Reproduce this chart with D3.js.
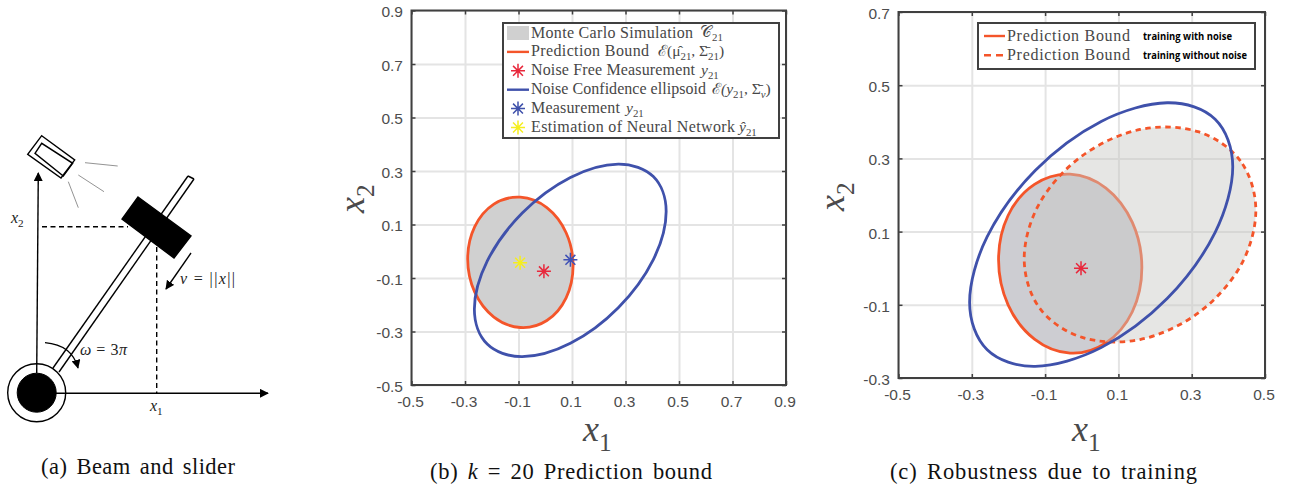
<!DOCTYPE html>
<html>
<head>
<meta charset="utf-8">
<script src="https://d3js.org/d3.v7.min.js"></script>
<style>
  html, body { margin: 0; padding: 0; background: #fff; }
  svg { display: block; }
</style>
</head>
<body>
<svg width="1295" height="491"></svg>
<script>
// axis ticks
const bTicksX = [-0.5, -0.3, -0.1, 0.1, 0.3, 0.5, 0.7, 0.9];
const bTicksY = [-0.5, -0.3, -0.1, 0.1, 0.3, 0.5, 0.7, 0.9];
const cTicksX = [-0.5, -0.3, -0.1, 0.1, 0.3, 0.5];
const cTicksY = [-0.3, -0.1, 0.1, 0.3, 0.5, 0.7];

// panel b, curves as [x1, x2]
const bPrediction = [[0.104,-0.054],[0.078,0.069],[0.006,0.163],[-0.093,0.202],[-0.192,0.176],[-0.264,0.091],[-0.29,-0.029],[-0.264,-0.152],[-0.192,-0.246],[-0.093,-0.285],[0.006,-0.259],[0.078,-0.174]];
const bNoise = [[0.452,0.149],[0.404,0.279],[0.273,0.326],[0.094,0.276],[-0.086,0.143],[-0.217,-0.037],[-0.265,-0.217],[-0.217,-0.347],[-0.086,-0.394],[0.094,-0.344],[0.273,-0.211],[0.404,-0.031]];
const bStars = [
  { x: -0.005, y: -0.075, color: "#e8283c" },
  { x: 0.094, y: -0.032, color: "#3f51b5" },
  { x: -0.094, y: -0.043, color: "#f5ee1e" }
];

// panel c
const cWithNoise = [[0.164,0.002],[0.138,0.125],[0.066,0.219],[-0.032,0.257],[-0.129,0.229],[-0.201,0.144],[-0.227,0.023],[-0.201,-0.1],[-0.129,-0.194],[-0.032,-0.232],[0.066,-0.204],[0.138,-0.119]];
const cWithoutNoise = [[0.475,0.158],[0.433,0.293],[0.317,0.373],[0.159,0.379],[0.001,0.307],[-0.115,0.178],[-0.157,0.026],[-0.115,-0.109],[0.001,-0.189],[0.159,-0.195],[0.317,-0.123],[0.433,0.006]];
const cNoise = [[0.412,0.277],[0.364,0.407],[0.233,0.452],[0.053,0.401],[-0.127,0.267],[-0.258,0.086],[-0.306,-0.093],[-0.258,-0.223],[-0.127,-0.268],[0.053,-0.217],[0.233,-0.083],[0.364,0.098]];
const cStars = [{ x: -0.002, y: 0, color: "#e8283c" }];

const orange = "#f4552a";
const blue = "#3f51ab";
const serif = "'Liberation Serif', serif";
const sans = "'Liberation Sans', sans-serif";

const svg = d3.select("svg");

// 8 armed marker, matlab style
const star8 = {
  draw(ctx, size) {
    const r = Math.sqrt(size);
    for (let i = 0; i < 4; i++) {
      const a = i * Math.PI / 4;
      ctx.moveTo(-r * Math.cos(a), -r * Math.sin(a));
      ctx.lineTo(r * Math.cos(a), r * Math.sin(a));
    }
  }
};

// parts: [text, kind] with kind r, i, sub, isub or sup
function mathText(parent, x, y, parts, size, color) {
  const t = parent.append("text")
    .attr("x", x).attr("y", y)
    .attr("font-family", serif)
    .attr("font-size", size)
    .attr("fill", color);
  let shift = 0;
  parts.forEach(([s, kind]) => {
    const small = kind === "sub" || kind === "isub" || kind === "sup";
    const target = kind === "sub" || kind === "isub" ? size * 0.28 : kind === "sup" ? -size * 0.35 : 0;
    t.append("tspan")
      .attr("dy", target - shift)
      .attr("font-style", kind === "i" || kind === "isub" ? "italic" : "normal")
      .attr("font-size", small ? size * 0.7 : size)
      .text(s);
    shift = target;
  });
  return t;
}

function panel(box, ticksX, ticksY) {
  const x = d3.scaleLinear().domain([ticksX[0], ticksX[ticksX.length - 1]]).range([box.left, box.right]);
  const y = d3.scaleLinear().domain([ticksY[0], ticksY[ticksY.length - 1]]).range([box.bottom, box.top]);
  const w = box.right - box.left, h = box.bottom - box.top;
  const fmt = d => d.toFixed(1);

  const grid = svg.append("g");
  grid.append("g").attr("transform", `translate(0,${box.bottom})`)
    .call(d3.axisBottom(x).tickValues(ticksX).tickSize(-h).tickFormat(""));
  grid.append("g").attr("transform", `translate(${box.left},0)`)
    .call(d3.axisLeft(y).tickValues(ticksY).tickSize(-w).tickFormat(""));
  grid.selectAll(".domain").remove();
  grid.selectAll("line").attr("stroke", "#e4e4e4").attr("stroke-width", 2);

  const marks = svg.append("g");
  const frame = svg.append("g");
  frame.append("rect")
    .attr("x", box.left).attr("y", box.top).attr("width", w).attr("height", h)
    .attr("fill", "none").attr("stroke", "#404040").attr("stroke-width", 2);
  const axes = [
    [d3.axisBottom(x).tickValues(ticksX).tickSize(-4).tickPadding(11).tickFormat(fmt), 0, box.bottom, -1.5, 0],
    [d3.axisLeft(y).tickValues(ticksY).tickSize(-4).tickPadding(8.5).tickFormat(fmt), box.left, 0, 0, 1.5],
    [d3.axisTop(x).tickValues(ticksX).tickSize(-4).tickFormat(""), 0, box.top, 0, 0],
    [d3.axisRight(y).tickValues(ticksY).tickSize(-4).tickFormat(""), box.right, 0, 0, 0]
  ];
  axes.forEach(([axis, tx, ty, nudgeX, nudgeY]) => {
    const g = frame.append("g").attr("transform", `translate(${tx},${ty})`).call(axis);
    g.select(".domain").remove();
    g.selectAll("line").attr("stroke", "#404040").attr("stroke-width", 1.5);
    g.selectAll("text").attr("font-family", sans).attr("font-size", 15.5).attr("fill", "#4d4d4d")
      .attr("transform", `translate(${nudgeX},${nudgeY})`);
  });

  const path = d3.line().x(d => x(d[0])).y(d => y(d[1])).curve(d3.curveCardinalClosed.tension(0));
  return { x, y, path, marks, frame };
}

function drawStars(p, stars, size) {
  p.marks.selectAll(null).data(stars).join("path")
    .attr("transform", d => `translate(${p.x(d.x)},${p.y(d.y)})`)
    .attr("d", d3.symbol().type(star8).size(size))
    .attr("fill", "none")
    .attr("stroke", d => d.color)
    .attr("stroke-width", 1.5);
}

function legendFrame(g, x, y, w, h) {
  g.append("rect").attr("x", x).attr("y", y).attr("width", w).attr("height", h)
    .attr("fill", "#fff").attr("stroke", "#404040").attr("stroke-width", 2);
}

// panel b
const pb = panel({ left: 411.5, right: 786, top: 10.5, bottom: 385 }, bTicksX, bTicksY);
pb.marks.append("path").attr("d", pb.path(bPrediction)).attr("fill", "#d0d0d0").attr("stroke", orange).attr("stroke-width", 2.8);
pb.marks.append("path").attr("d", pb.path(bNoise)).attr("fill", "none").attr("stroke", blue).attr("stroke-width", 2.8);
drawStars(pb, bStars, 49);

const lb = pb.frame.append("g");
legendFrame(lb, 503, 23, 276, 115);
const lbRows = [
  { kind: "patch", label: "Monte Carlo Simulation", len: 162, mathX: 700, math: [["𝒞", "r"], ["21", "sub"]] },
  { kind: "line", color: orange, label: "Prediction Bound", len: 118, mathX: 658, math: [["ℰ", "r"], ["(μ̂", "r"], ["21", "sub"], [", Σ̄", "r"], ["21", "sub"], [")", "r"]] },
  { kind: "star", color: "#e8283c", label: "Noise Free Measurement", len: 164, mathX: 701, math: [["y", "i"], ["21", "sub"]] },
  { kind: "line", color: blue, label: "Noise Confidence ellipsoid", len: 175, mathX: 712, math: [["ℰ", "r"], ["(y", "i"], ["21", "sub"], [", Σ̄", "r"], ["v", "isub"], [")", "r"]] },
  { kind: "star", color: blue, label: "Measurement", len: 89, mathX: 626, math: [["y", "i"], ["21", "sub"]] },
  { kind: "star", color: "#f5ee1e", label: "Estimation of Neural Network", len: 204, mathX: 739, math: [["ŷ", "i"], ["21", "sub"]] }
];
lbRows.forEach((row, i) => {
  const cy = 33 + i * 18.9;
  if (row.kind === "patch") {
    lb.append("rect").attr("x", 507).attr("y", cy - 7).attr("width", 22).attr("height", 14).attr("fill", "#d0d0d0");
  } else if (row.kind === "line") {
    lb.append("line").attr("x1", 507).attr("x2", 529).attr("y1", cy).attr("y2", cy).attr("stroke", row.color).attr("stroke-width", 2.4);
  } else {
    lb.append("path").attr("transform", `translate(518,${cy})`)
      .attr("d", d3.symbol().type(star8).size(49))
      .attr("fill", "none").attr("stroke", row.color).attr("stroke-width", 1.5);
  }
  mathText(lb, 531, cy + 4.5, [[row.label, "r"]], 16, "#474747").attr("textLength", row.len);
  mathText(lb, row.mathX, cy + 4, row.math, 15.5, "#474747");
});

// panel c
const pc = panel({ left: 898.5, right: 1265, top: 12, bottom: 378 }, cTicksX, cTicksY);
pc.marks.append("path").attr("d", pc.path(cWithNoise)).attr("fill", "#cdcdd2").attr("stroke", orange).attr("stroke-width", 2.8);
pc.marks.append("path").attr("d", pc.path(cWithoutNoise)).attr("fill", "#c8c8c4").attr("fill-opacity", 0.46);
pc.marks.append("path").attr("d", pc.path(cWithoutNoise)).attr("fill", "none").attr("stroke", orange).attr("stroke-width", 2.8).attr("stroke-dasharray", "5.5,4.5");
pc.marks.append("path").attr("d", pc.path(cNoise)).attr("fill", "none").attr("stroke", blue).attr("stroke-width", 2.8);
drawStars(pc, cStars, 49);

const lc = pc.frame.append("g");
legendFrame(lc, 978, 23, 277, 46);
[["training with noise", null, 89], ["training without noise", "7,5", 104]].forEach(([note, dash, len], i) => {
  const cy = 36 + i * 19.3;
  lc.append("line").attr("x1", 984).attr("x2", 1005).attr("y1", cy).attr("y2", cy)
    .attr("stroke", orange).attr("stroke-width", 2.4).attr("stroke-dasharray", dash);
  mathText(lc, 1007, cy + 4.5, [["Prediction Bound", "r"]], 16, "#474747").attr("textLength", 123);
  lc.append("text").attr("x", 1143).attr("y", cy + 4)
    .attr("font-family", "'Open Sans', sans-serif").attr("font-weight", 700)
    .attr("font-size", 11).attr("textLength", len).attr("lengthAdjust", "spacingAndGlyphs").attr("fill", "#000").text(note);
});

// axis names
[[pb, 583, 441, 364, 198], [pc, 1072, 441, 844, 196]].forEach(([p, xx, xy, yx, yy]) => {
  mathText(p.frame, xx, xy, [["x", "i"], ["1", "sub"]], 36, "#4a4a4a");
  mathText(p.frame, 0, 0, [["x", "i"], ["2", "sub"]], 36, "#4a4a4a")
    .attr("transform", `translate(${yx},${yy + 15}) rotate(-90)`);
});

// panel a, beam and slider sketch
const sk = svg.append("g").attr("fill", "none").attr("stroke", "#000");
const defs = svg.append("defs");
defs.append("marker").attr("id", "head").attr("viewBox", "0 0 10 10").attr("refX", 9).attr("refY", 5)
  .attr("markerWidth", 9).attr("markerHeight", 9).attr("markerUnits", "userSpaceOnUse").attr("orient", "auto")
  .append("path").attr("d", "M0,0L10,5L0,10z").attr("fill", "#000").attr("stroke", "none");

const seg = (x1, y1, x2, y2) => sk.append("line").attr("x1", x1).attr("y1", y1).attr("x2", x2).attr("y2", y2).attr("stroke-width", 1.4);
const poly = pts => sk.append("polygon").attr("points", pts.join(" ")).attr("stroke-width", 1.4);

seg(53, 368, 188, 176);
seg(59, 372, 194, 179);
seg(188, 176, 194, 179);
poly([[138, 197], [191, 236], [174, 258], [122, 219]]).attr("fill", "#000");
seg(55, 393.3, 268, 393.3).attr("marker-end", "url(#head)");
seg(36.7, 373, 38.3, 173).attr("marker-end", "url(#head)");
sk.append("circle").attr("cx", 36.7).attr("cy", 392.7).attr("r", 29).attr("stroke-width", 1.4);
sk.append("circle").attr("cx", 36.7).attr("cy", 392.7).attr("r", 19.5).attr("fill", "#000");
seg(42, 226.7, 128, 226.7).attr("stroke-dasharray", "5,3.5");
seg(156.7, 247, 156.7, 393).attr("stroke-dasharray", "5,3.5");
seg(191, 253, 166, 289).attr("marker-end", "url(#head)");
sk.append("path").attr("d", "M45,342.7Q72,345 78,368").attr("stroke-width", 1.3).attr("marker-end", "url(#head)");
poly([[41.7, 135.7], [74.7, 160], [61, 178], [27.7, 154.3]]);
poly([[35, 153.3], [41.7, 143.3], [72.7, 163.3], [63.3, 176]]);
[[85, 162.7, 117.7, 166], [78.3, 175, 104, 191.7], [68.3, 181.7, 78.3, 207.7]].forEach(r => {
  seg(...r).attr("stroke", "#777").attr("stroke-width", 0.8);
});

const sketchText = svg.append("g");
mathText(sketchText, 11, 223, [["x", "i"], ["2", "sub"]], 16, "#222");
mathText(sketchText, 150, 411, [["x", "i"], ["1", "sub"]], 16, "#222");
mathText(sketchText, 180, 284, [["v", "i"], [" = ||", "r"], ["x", "i"], ["||", "r"]], 16, "#222").attr("textLength", 55);
mathText(sketchText, 80, 355, [["ω", "i"], [" = 3", "r"], ["π", "i"]], 16, "#222").attr("textLength", 47);

// captions
const caption = svg.append("g").attr("word-spacing", 3);
mathText(caption, 41, 474, [["(a) Beam and slider", "r"]], 22.5, "#111").attr("textLength", 194);
mathText(caption, 430, 479, [["(b) ", "r"], ["k", "i"], [" = 20 Prediction bound", "r"]], 22.5, "#111").attr("textLength", 282);
mathText(caption, 890, 479, [["(c) Robustness due to training", "r"]], 22.5, "#111").attr("textLength", 307);
</script>
</body>
</html>
